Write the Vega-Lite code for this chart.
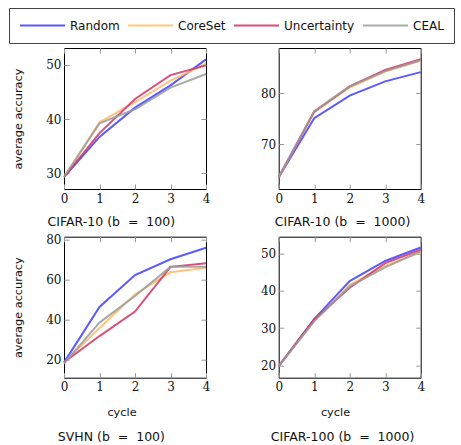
{
  "$schema": "https://vega.github.io/schema/vega-lite/v6.json",
  "padding": {"left": 8, "top": 7, "right": 0, "bottom": 0},
  "background": "white",
  "config": {
    "view": {"stroke": "#000", "strokeWidth": 1},
    "axis": {
      "domain": false, "grid": false,
      "labelFont": "DejaVu Serif", "labelFontSize": 12, "labelColor": "#111",
      "tickColor": "#999", "tickSize": -5, "tickWidth": 1,
      "labelPadding": 6,
      "titleFont": "DejaVu Sans", "titleFontSize": 11.3, "titleFontWeight": "normal", "titleColor": "#111"
    },
    "axisY": {"labelPadding": 8, "titlePadding": 22},
    "axisX": {"labelPadding": 9, "titlePadding": 14, "labelFlush": false},
    "title": {"orient": "bottom", "frame": "bounds", "anchor": "middle", "font": "DejaVu Sans", "fontSize": 12.5, "fontWeight": "normal", "color": "#111", "offset": 12},
    "legend": {
      "orient": "none", "legendX": -55, "legendY": -40, "direction": "horizontal",
      "symbolType": "stroke", "symbolSize": 2025, "symbolStrokeWidth": 2, "clipHeight": 15,
      "labelFont": "DejaVu Sans", "labelFontSize": 12, "labelColor": "#111", "labelOffset": 4,
      "columnPadding": 7, "padding": 10, "strokeColor": "#444", "strokeWidth": 1
    }
  },
  "data": {"values": [
    {"panel": "A", "method": "Random", "cycle": 0, "acc": 29.3},
    {"panel": "A", "method": "Random", "cycle": 1, "acc": 36.7},
    {"panel": "A", "method": "Random", "cycle": 2, "acc": 42.1},
    {"panel": "A", "method": "Random", "cycle": 3, "acc": 46.2},
    {"panel": "A", "method": "Random", "cycle": 4, "acc": 51.0},
    {"panel": "A", "method": "CoreSet", "cycle": 0, "acc": 29.3},
    {"panel": "A", "method": "CoreSet", "cycle": 1, "acc": 39.4},
    {"panel": "A", "method": "CoreSet", "cycle": 2, "acc": 43.1},
    {"panel": "A", "method": "CoreSet", "cycle": 3, "acc": 47.1},
    {"panel": "A", "method": "CoreSet", "cycle": 4, "acc": 50.2},
    {"panel": "A", "method": "Uncertainty", "cycle": 0, "acc": 29.3},
    {"panel": "A", "method": "Uncertainty", "cycle": 1, "acc": 37.4},
    {"panel": "A", "method": "Uncertainty", "cycle": 2, "acc": 43.7},
    {"panel": "A", "method": "Uncertainty", "cycle": 3, "acc": 48.1},
    {"panel": "A", "method": "Uncertainty", "cycle": 4, "acc": 49.9},
    {"panel": "A", "method": "CEAL", "cycle": 0, "acc": 29.3},
    {"panel": "A", "method": "CEAL", "cycle": 1, "acc": 39.2},
    {"panel": "A", "method": "CEAL", "cycle": 2, "acc": 41.8},
    {"panel": "A", "method": "CEAL", "cycle": 3, "acc": 45.8},
    {"panel": "A", "method": "CEAL", "cycle": 4, "acc": 48.3},

    {"panel": "B", "method": "Random", "cycle": 0, "acc": 63.6},
    {"panel": "B", "method": "Random", "cycle": 1, "acc": 75.1},
    {"panel": "B", "method": "Random", "cycle": 2, "acc": 79.5},
    {"panel": "B", "method": "Random", "cycle": 3, "acc": 82.3},
    {"panel": "B", "method": "Random", "cycle": 4, "acc": 84.1},
    {"panel": "B", "method": "CoreSet", "cycle": 0, "acc": 63.6},
    {"panel": "B", "method": "CoreSet", "cycle": 1, "acc": 76.3},
    {"panel": "B", "method": "CoreSet", "cycle": 2, "acc": 81.1},
    {"panel": "B", "method": "CoreSet", "cycle": 3, "acc": 84.2},
    {"panel": "B", "method": "CoreSet", "cycle": 4, "acc": 86.3},
    {"panel": "B", "method": "Uncertainty", "cycle": 0, "acc": 63.6},
    {"panel": "B", "method": "Uncertainty", "cycle": 1, "acc": 76.4},
    {"panel": "B", "method": "Uncertainty", "cycle": 2, "acc": 81.3},
    {"panel": "B", "method": "Uncertainty", "cycle": 3, "acc": 84.5},
    {"panel": "B", "method": "Uncertainty", "cycle": 4, "acc": 86.6},
    {"panel": "B", "method": "CEAL", "cycle": 0, "acc": 63.6},
    {"panel": "B", "method": "CEAL", "cycle": 1, "acc": 76.5},
    {"panel": "B", "method": "CEAL", "cycle": 2, "acc": 81.3},
    {"panel": "B", "method": "CEAL", "cycle": 3, "acc": 84.3},
    {"panel": "B", "method": "CEAL", "cycle": 4, "acc": 86.4},

    {"panel": "C", "method": "Random", "cycle": 0, "acc": 18.7},
    {"panel": "C", "method": "Random", "cycle": 1, "acc": 46.4},
    {"panel": "C", "method": "Random", "cycle": 2, "acc": 62.2},
    {"panel": "C", "method": "Random", "cycle": 3, "acc": 70.1},
    {"panel": "C", "method": "Random", "cycle": 4, "acc": 75.8},
    {"panel": "C", "method": "CoreSet", "cycle": 0, "acc": 18.7},
    {"panel": "C", "method": "CoreSet", "cycle": 1, "acc": 35.9},
    {"panel": "C", "method": "CoreSet", "cycle": 2, "acc": 52.7},
    {"panel": "C", "method": "CoreSet", "cycle": 3, "acc": 63.6},
    {"panel": "C", "method": "CoreSet", "cycle": 4, "acc": 65.9},
    {"panel": "C", "method": "Uncertainty", "cycle": 0, "acc": 18.9},
    {"panel": "C", "method": "Uncertainty", "cycle": 1, "acc": 31.9},
    {"panel": "C", "method": "Uncertainty", "cycle": 2, "acc": 44.1},
    {"panel": "C", "method": "Uncertainty", "cycle": 3, "acc": 66.3},
    {"panel": "C", "method": "Uncertainty", "cycle": 4, "acc": 68.1},
    {"panel": "C", "method": "CEAL", "cycle": 0, "acc": 18.2},
    {"panel": "C", "method": "CEAL", "cycle": 1, "acc": 38.6},
    {"panel": "C", "method": "CEAL", "cycle": 2, "acc": 51.8},
    {"panel": "C", "method": "CEAL", "cycle": 3, "acc": 66.3},
    {"panel": "C", "method": "CEAL", "cycle": 4, "acc": 66.4},

    {"panel": "D", "method": "Random", "cycle": 0, "acc": 19.8},
    {"panel": "D", "method": "Random", "cycle": 1, "acc": 32.4},
    {"panel": "D", "method": "Random", "cycle": 2, "acc": 42.6},
    {"panel": "D", "method": "Random", "cycle": 3, "acc": 48.0},
    {"panel": "D", "method": "Random", "cycle": 4, "acc": 51.6},
    {"panel": "D", "method": "CoreSet", "cycle": 0, "acc": 19.8},
    {"panel": "D", "method": "CoreSet", "cycle": 1, "acc": 32.0},
    {"panel": "D", "method": "CoreSet", "cycle": 2, "acc": 41.6},
    {"panel": "D", "method": "CoreSet", "cycle": 3, "acc": 46.7},
    {"panel": "D", "method": "CoreSet", "cycle": 4, "acc": 50.3},
    {"panel": "D", "method": "Uncertainty", "cycle": 0, "acc": 19.8},
    {"panel": "D", "method": "Uncertainty", "cycle": 1, "acc": 32.3},
    {"panel": "D", "method": "Uncertainty", "cycle": 2, "acc": 40.8},
    {"panel": "D", "method": "Uncertainty", "cycle": 3, "acc": 47.4},
    {"panel": "D", "method": "Uncertainty", "cycle": 4, "acc": 51.0},
    {"panel": "D", "method": "CEAL", "cycle": 0, "acc": 19.8},
    {"panel": "D", "method": "CEAL", "cycle": 1, "acc": 31.8},
    {"panel": "D", "method": "CEAL", "cycle": 2, "acc": 41.2},
    {"panel": "D", "method": "CEAL", "cycle": 3, "acc": 46.3},
    {"panel": "D", "method": "CEAL", "cycle": 4, "acc": 50.6}
  ]},
  "columns": 2,
  "bounds": "flush",
  "spacing": {"row": 47.7, "column": 72.7},
  "concat": [
    {
      "width": 142, "height": 141,
      "title": {"text": "CIFAR-10 (b\u00a0\u00a0=\u00a0\u00a0100)"},
      "transform": [{"filter": "datum.panel === 'A'"}],
      "layer": [
        {"mark": {"type": "line", "strokeWidth": 2, "opacity": 0.85},
         "encoding": {
           "x": {"field": "cycle", "type": "quantitative", "scale": {"domain": [0, 4], "nice": false, "zero": false}, "axis": {"orient": "bottom", "values": [0, 1, 2, 3, 4], "title": null}},
           "y": {"field": "acc", "type": "quantitative", "scale": {"domain": [27.1, 53.1], "nice": false, "zero": false}, "axis": {"orient": "left", "values": [30, 40, 50], "title": "average accuracy"}},
           "color": {"field": "method", "type": "nominal", "scale": {"domain": ["Random", "CoreSet", "Uncertainty", "CEAL"], "range": ["#3d3dff", "#ffbb69", "#d13165", "#9b9b9b"]}, "legend": {"title": null}}
         }},
        {"mark": {"type": "point", "opacity": 0},
         "encoding": {
           "x": {"field": "cycle", "type": "quantitative", "axis": {"orient": "top", "values": [0, 1, 2, 3, 4], "labels": false, "title": null}},
           "y": {"field": "acc", "type": "quantitative", "axis": {"orient": "right", "values": [30, 40, 50], "labels": false, "title": null}}
         }}
      ],
      "resolve": {"axis": {"x": "independent", "y": "independent"}}
    },
    {
      "width": 142, "height": 141,
      "title": {"text": "CIFAR-10 (b\u00a0\u00a0=\u00a0\u00a01000)"},
      "transform": [{"filter": "datum.panel === 'B'"}],
      "layer": [
        {"mark": {"type": "line", "strokeWidth": 2, "opacity": 0.85},
         "encoding": {
           "x": {"field": "cycle", "type": "quantitative", "scale": {"domain": [0, 4], "nice": false, "zero": false}, "axis": {"orient": "bottom", "values": [0, 1, 2, 3, 4], "title": null}},
           "y": {"field": "acc", "type": "quantitative", "scale": {"domain": [61.3, 88.8], "nice": false, "zero": false}, "axis": {"orient": "left", "values": [70, 80], "title": null}},
           "color": {"field": "method", "type": "nominal", "scale": {"domain": ["Random", "CoreSet", "Uncertainty", "CEAL"], "range": ["#3d3dff", "#ffbb69", "#d13165", "#9b9b9b"]}, "legend": {"title": null}}
         }},
        {"mark": {"type": "point", "opacity": 0},
         "encoding": {
           "x": {"field": "cycle", "type": "quantitative", "axis": {"orient": "top", "values": [0, 1, 2, 3, 4], "labels": false, "title": null}},
           "y": {"field": "acc", "type": "quantitative", "axis": {"orient": "right", "values": [70, 80], "labels": false, "title": null}}
         }}
      ],
      "resolve": {"axis": {"x": "independent", "y": "independent"}}
    },
    {
      "width": 142, "height": 141,
      "title": {"text": "SVHN (b\u00a0\u00a0=\u00a0\u00a0100)", "offset": 13},
      "transform": [{"filter": "datum.panel === 'C'"}],
      "layer": [
        {"mark": {"type": "line", "strokeWidth": 2, "opacity": 0.85},
         "encoding": {
           "x": {"field": "cycle", "type": "quantitative", "scale": {"domain": [0, 4], "nice": false, "zero": false}, "axis": {"orient": "bottom", "values": [0, 1, 2, 3, 4], "title": "cycle", "titleX": 57.5}},
           "y": {"field": "acc", "type": "quantitative", "scale": {"domain": [11.2, 81.3], "nice": false, "zero": false}, "axis": {"orient": "left", "values": [20, 40, 60, 80], "title": "average accuracy"}},
           "color": {"field": "method", "type": "nominal", "scale": {"domain": ["Random", "CoreSet", "Uncertainty", "CEAL"], "range": ["#3d3dff", "#ffbb69", "#d13165", "#9b9b9b"]}, "legend": {"title": null}}
         }},
        {"mark": {"type": "point", "opacity": 0},
         "encoding": {
           "x": {"field": "cycle", "type": "quantitative", "axis": {"orient": "top", "values": [0, 1, 2, 3, 4], "labels": false, "title": null}},
           "y": {"field": "acc", "type": "quantitative", "axis": {"orient": "right", "values": [20, 40, 60, 80], "labels": false, "title": null}}
         }}
      ],
      "resolve": {"axis": {"x": "independent", "y": "independent"}}
    },
    {
      "width": 142, "height": 141,
      "title": {"text": "CIFAR-100 (b\u00a0\u00a0=\u00a0\u00a01000)", "offset": 13},
      "transform": [{"filter": "datum.panel === 'D'"}],
      "layer": [
        {"mark": {"type": "line", "strokeWidth": 2, "opacity": 0.85},
         "encoding": {
           "x": {"field": "cycle", "type": "quantitative", "scale": {"domain": [0, 4], "nice": false, "zero": false}, "axis": {"orient": "bottom", "values": [0, 1, 2, 3, 4], "title": "cycle", "titleX": 56.3}},
           "y": {"field": "acc", "type": "quantitative", "scale": {"domain": [16.7, 54.5], "nice": false, "zero": false}, "axis": {"orient": "left", "values": [20, 30, 40, 50], "title": null}},
           "color": {"field": "method", "type": "nominal", "scale": {"domain": ["Random", "CoreSet", "Uncertainty", "CEAL"], "range": ["#3d3dff", "#ffbb69", "#d13165", "#9b9b9b"]}, "legend": {"title": null}}
         }},
        {"mark": {"type": "point", "opacity": 0},
         "encoding": {
           "x": {"field": "cycle", "type": "quantitative", "axis": {"orient": "top", "values": [0, 1, 2, 3, 4], "labels": false, "title": null}},
           "y": {"field": "acc", "type": "quantitative", "axis": {"orient": "right", "values": [20, 30, 40, 50], "labels": false, "title": null}}
         }}
      ],
      "resolve": {"axis": {"x": "independent", "y": "independent"}}
    }
  ]
}
